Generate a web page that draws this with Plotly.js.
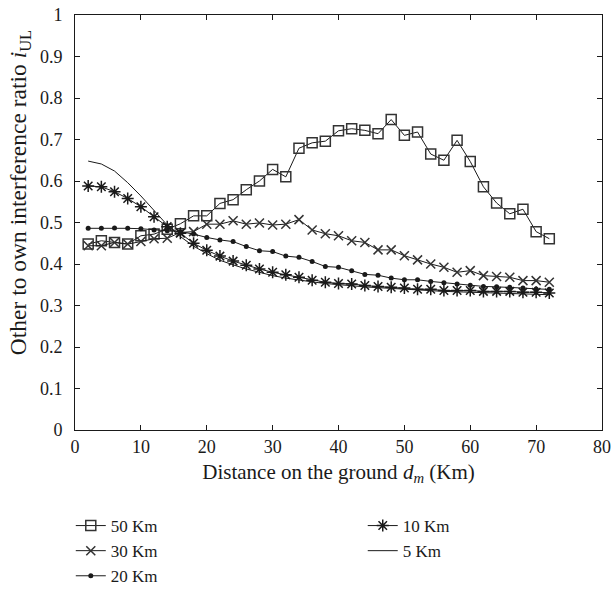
<!DOCTYPE html>
<html>
<head>
<meta charset="utf-8">
<script src="https://cdn.plot.ly/plotly-3.0.1.min.js"></script>
<style>html,body{margin:0;padding:0;background:#fff;}#chart{width:614px;height:590px;}</style>
</head>
<body>
<div id="chart"></div>
<script>
const distance = [2,4,6,8,10,12,14,16,18,20,22,24,26,28,30,32,34,36,38,40,42,44,46,48,50,52,54,56,58,60,62,64,66,68,70,72];
const km50 = [0.448,0.456,0.452,0.448,0.468,0.472,0.484,0.497,0.516,0.516,0.546,0.555,0.579,0.600,0.628,0.610,0.679,0.692,0.696,0.721,0.726,0.722,0.714,0.748,0.710,0.718,0.665,0.650,0.698,0.647,0.586,0.547,0.521,0.532,0.478,0.461];
const km30 = [0.444,0.444,0.452,0.448,0.454,0.461,0.462,0.476,0.478,0.496,0.496,0.504,0.496,0.499,0.494,0.496,0.507,0.482,0.473,0.468,0.456,0.452,0.434,0.434,0.420,0.410,0.400,0.392,0.380,0.384,0.372,0.370,0.368,0.360,0.360,0.356];
const km20 = [0.486,0.486,0.487,0.486,0.485,0.482,0.480,0.478,0.472,0.464,0.458,0.454,0.442,0.432,0.430,0.419,0.416,0.406,0.394,0.392,0.384,0.375,0.373,0.366,0.362,0.362,0.358,0.355,0.352,0.349,0.346,0.345,0.344,0.342,0.340,0.339];
const km10 = [0.588,0.586,0.574,0.558,0.538,0.514,0.490,0.474,0.450,0.433,0.419,0.407,0.397,0.388,0.380,0.374,0.368,0.361,0.356,0.353,0.352,0.348,0.346,0.344,0.342,0.339,0.339,0.336,0.336,0.336,0.334,0.334,0.334,0.332,0.332,0.330];
const km5 = [0.648,0.641,0.624,0.596,0.564,0.528,0.494,0.466,0.443,0.425,0.409,0.398,0.388,0.380,0.372,0.366,0.361,0.357,0.353,0.350,0.347,0.345,0.343,0.341,0.339,0.337,0.336,0.334,0.333,0.332,0.331,0.330,0.329,0.328,0.327,0.326];
const seriesNames = ["50 Km","30 Km","20 Km","10 Km","5 Km"];
const xTicks = [0,10,20,30,40,50,60,70,80];
const yTicks = [0,0.1,0.2,0.3,0.4,0.5,0.6,0.7,0.8,0.9,1];
const yTickText = ["0","0.1","0.2","0.3","0.4","0.5","0.6","0.7","0.8","0.9","1"];
const xTitle = 'Distance on the ground <i>d<sub>m</sub></i> (Km)';
const yTitle = 'Other to own interference ratio <i>i</i><sub>UL</sub>';

const ink = '#1a1a1a';
const mk = '#333';
const fam = '"Liberation Serif", "DejaVu Serif", serif';
const tickFont = {family: fam, size: 18, color: ink};
const legFont = {family: fam, size: 17, color: ink};

const traces = [
  {x: distance, y: km50, name: seriesNames[0], mode: 'lines+markers', line: {color: ink, width: 1},
   marker: {symbol: 'square-open', size: 10, color: mk, line: {width: 1.5}}, legend: 'legend'},
  {x: distance, y: km30, name: seriesNames[1], mode: 'lines+markers', line: {color: ink, width: 1},
   marker: {symbol: 'x-thin-open', size: 9, color: mk, line: {width: 1.5, color: mk}}, legend: 'legend'},
  {x: distance, y: km20, name: seriesNames[2], mode: 'lines+markers', line: {color: ink, width: 1},
   marker: {symbol: 'circle', size: 5, color: ink}, legend: 'legend'},
  {x: distance, y: km10, name: seriesNames[3], mode: 'lines+markers', line: {color: ink, width: 1},
   marker: {symbol: 'asterisk-open', size: 10, color: ink, line: {width: 1.5, color: ink}}, legend: 'legend2'},
  {x: distance, y: km5, name: seriesNames[4], mode: 'lines', line: {color: ink, width: 1}, legend: 'legend2'}
];

const axisCommon = {showline: true, linecolor: ink, linewidth: 1, mirror: 'ticks', ticks: 'inside',
  ticklen: 5, tickcolor: ink, showgrid: false, zeroline: false, tickfont: tickFont};

const layout = {
  width: 614, height: 590,
  margin: {l: 75, r: 12, t: 15, b: 160, autoexpand: false},
  paper_bgcolor: '#fff', plot_bgcolor: '#fff',
  font: tickFont,
  showlegend: true,
  xaxis: Object.assign({}, axisCommon, {range: [0, 80], tickvals: xTicks, ticktext: xTicks.map(String),
    ticklabelstandoff: 0,
    title: {text: xTitle, font: {family: fam, size: 21, color: ink}, standoff: 8}}),
  yaxis: Object.assign({}, axisCommon, {range: [0, 1], tickvals: yTicks, ticktext: yTickText,
    ticklabelstandoff: 8}),
  annotations: [{text: yTitle, xref: 'paper', yref: 'paper', x: -0.104, y: 0.571, xanchor: 'center', yanchor: 'middle',
    textangle: -90, showarrow: false, font: {family: fam, size: 23.5, color: ink}}],
  legend: {x: -0.008, y: -0.188, xanchor: 'left', yanchor: 'top', orientation: 'v', bgcolor: 'rgba(0,0,0,0)',
    font: legFont, tracegroupgap: 0},
  legend2: {x: 0.546, y: -0.188, xanchor: 'left', yanchor: 'top', orientation: 'v', bgcolor: 'rgba(0,0,0,0)',
    font: legFont, tracegroupgap: 0}
};

Plotly.newPlot('chart', traces, layout, {displayModeBar: false, staticPlot: true});
</script>
</body>
</html>
